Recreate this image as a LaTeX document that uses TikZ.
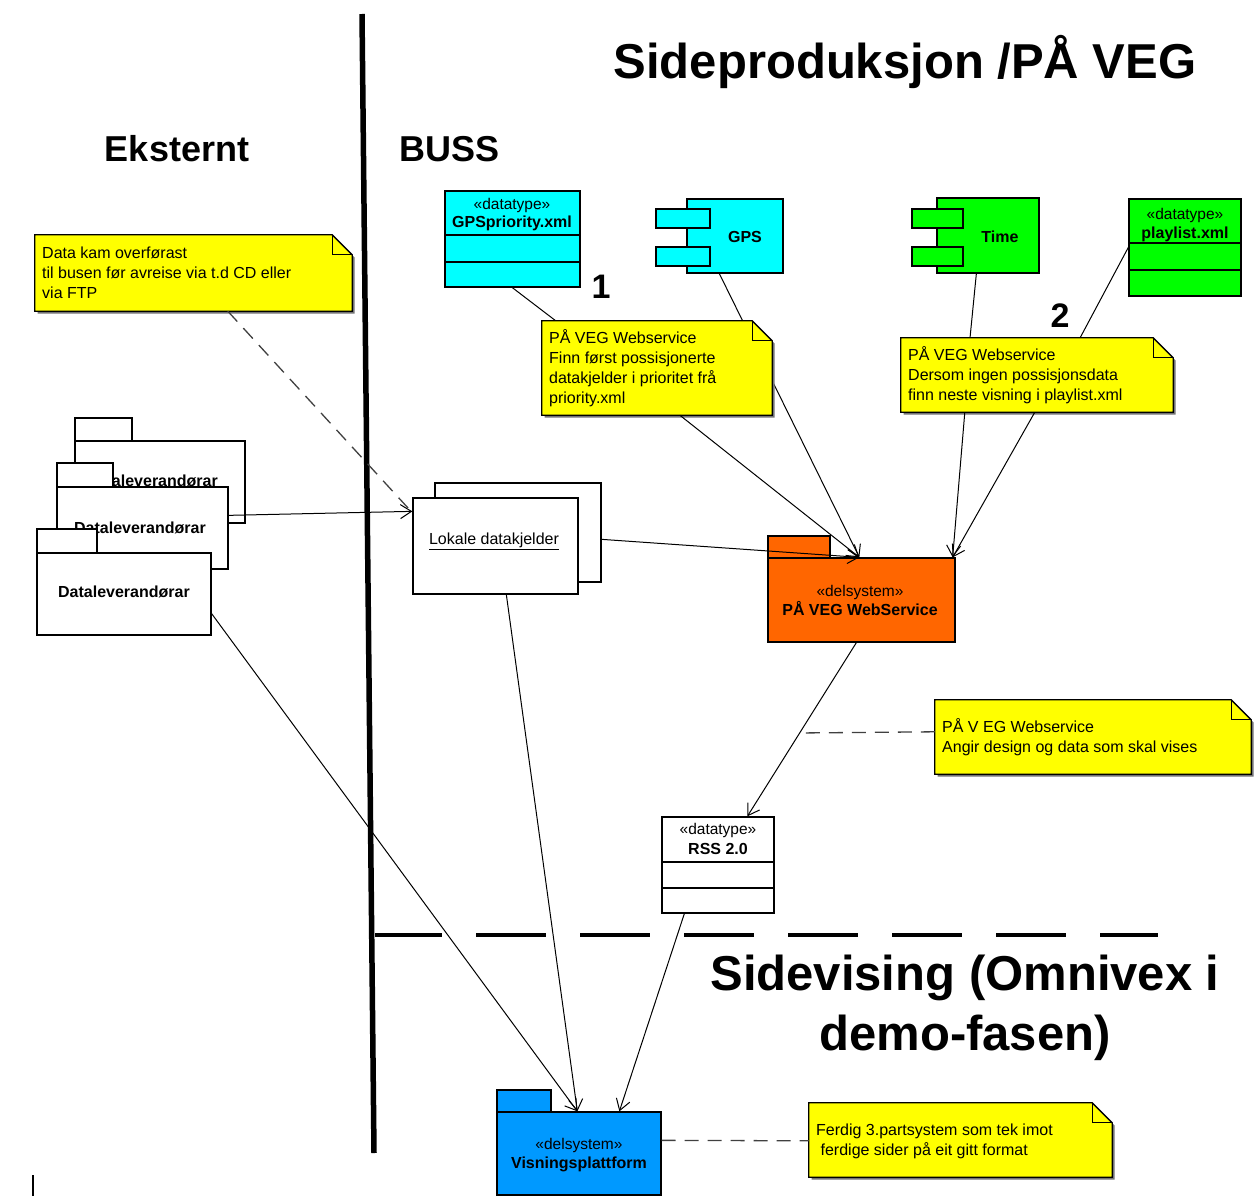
\documentclass[tikz,border=0pt]{standalone}
\usepackage{fontspec}
\setmainfont{Liberation Sans}
\usetikzlibrary{arrows.meta,fit,calc}
\definecolor{ccyan}{RGB}{0,255,255}
\definecolor{cgreen}{RGB}{0,255,0}
\definecolor{cyellow}{RGB}{255,255,0}
\definecolor{corange}{RGB}{255,102,0}
\definecolor{cblue}{RGB}{0,153,255}
\tikzset{
 box/.style={draw, line width=1.3pt, inner sep=0pt},
 conn/.style={line width=1pt},
 arr/.style={conn, -{Straight Barb[length=11pt,width=14pt]}},
 dline/.style={line width=1.3pt, dash pattern=on 14pt off 9pt, draw=black!75},
 notebg/.style={inner sep=0pt},
 noteline/.style={line width=1.3pt},
 notetext/.style={anchor=north west, inner sep=0pt, align=left, font=\fontsize{16}{20}\selectfont},
 stereo/.style={anchor=base, inner sep=0pt, font=\fontsize{15.5}{18}\selectfont},
 cname/.style={anchor=base, inner sep=0pt, font=\bfseries\fontsize{16}{19}\selectfont},
 bigtitle/.style={anchor=base, inner sep=0pt, font=\bfseries\fontsize{49}{60}\selectfont},
 headtxt/.style={anchor=base, inner sep=0pt, font=\bfseries\fontsize{36}{40}\selectfont},
 numtxt/.style={anchor=base, inner sep=0pt, font=\bfseries\fontsize{34}{40}\selectfont},
}
\newcommand\umlnote[7]{%
 \fill[black!55] (#2+2.5,#3+2.5) -- (#4-17.5,#3+2.5) -- (#4+2.5,#3+22.5) -- (#4+2.5,#5+2.5) -- (#2+2.5,#5+2.5) -- cycle;
 \node[notebg, fit={(#2,#3)(#4,#5)}] (#1) {};
 \filldraw[fill=cyellow, noteline] (#1.north west) -- ($(#1.north east)+(-20,0)$) -- ($(#1.north east)+(0,20)$) -- (#1.south east) -- (#1.south west) -- cycle;
 \draw[noteline] ($(#1.north east)+(-20,0)$) |- ($(#1.north east)+(0,20)$);
 \node[notetext] (#1t) at (#2+7,#6-8.5) {\rule{0pt}{14pt}#7};
}
\begin{document}
\begin{tikzpicture}[x=1pt,y=-1pt]
\useasboundingbox (0,0) rectangle (1254,1196);

% ---- titles
\node[bigtitle] (t1) at (905,79) {Sideproduksjon /PÅ VEG};
\node[headtxt] (t2) at (177,162) {Eksternt};
\node[headtxt] (t3) at (450,162) {BUSS};
\node[bigtitle] (t4) at (965,990) {Sidevising (Omnivex i};
\node[bigtitle] (t5) at (965,1050) {demo-fasen)};
\node[numtxt] (n1) at (601,298) {1};
\node[numtxt] (n2) at (1060,327) {2};

% ---- separators
\draw[line width=5.5pt] (362,14) -- (374,1153);
\draw[line width=4pt, dash pattern=on 70pt off 34pt, dash phase=3pt] (375,935) -- (1158,935);
\draw[line width=2pt] (33,1175) -- (33,1196);

% ---- GPSpriority.xml
\node[box, fill=ccyan, fit={(445,191)(580,287)}] (gpsp) {};
\draw[line width=1.3pt] (445,235) -- (580,235) (445,262) -- (580,262);
\node[stereo] (gpsps) at (512,209) {«datatype»};
\node[cname] (gpspn) at (512,228) {GPSpriority.xml};

% ---- GPS component
\node[box, fill=ccyan, fit={(687,199)(783,273)}] (gps) {};
\node[box, fill=ccyan, fit={(656,209)(710,228)}] (gpsa) {};
\node[box, fill=ccyan, fit={(656,247)(710,266)}] (gpsb) {};
\node[cname] (gpsn) at (745,242) {GPS};

% ---- Time component
\node[box, fill=cgreen, fit={(937,198)(1039,273)}] (time) {};
\node[box, fill=cgreen, fit={(912,209)(963,228)}] (timea) {};
\node[box, fill=cgreen, fit={(912,247)(963,266)}] (timeb) {};
\node[cname] (timen) at (1000,243) {Time};

% ---- playlist.xml
\node[box, fill=cgreen, fit={(1129,199)(1241,296)}] (pl) {};
\draw[line width=1.3pt] (1129,243) -- (1241,243) (1129,270) -- (1241,270);
\node[stereo] (pls) at (1185,219) {«datatype»};
\node[cname] (pln) at (1185,238) {playlist.xml};

% ---- Dataleverandorar stack
\node[box, fill=white, fit={(75,418)(132,441)}] (dl1tab) {};
\node[box, fill=white, fit={(75,441)(245,523)}] (dl1) {};
\node[cname] (dl1n) at (152,486) {Dataleverandørar};
\node[box, fill=white, fit={(57,463)(113,487)}] (dl2tab) {};
\node[box, fill=white, fit={(57,487)(228,569)}] (dl2) {};
\node[cname] (dl2n) at (140,533) {Dataleverandørar};
\node[box, fill=white, fit={(37,529)(97,553)}] (dl3tab) {};
\node[box, fill=white, fit={(37,553)(211,635)}] (dl3) {};
\node[cname] (dl3n) at (124,597) {Dataleverandørar};

% ---- Lokale datakjelder
\node[box, fill=white, fit={(435,483)(601,582)}] (lok2) {};
\node[box, fill=white, fit={(413,498)(578,594)}] (lok) {};
\node[anchor=base, inner sep=0pt, font=\fontsize{16}{19}\selectfont] (lokn) at (494,544) {\underline{Lokale datakjelder}};

% ---- PA VEG WebService
\node[box, fill=corange, fit={(768,536)(830,558)}] (wstab) {};
\node[box, fill=corange, fit={(768,558)(955,642)}] (ws) {};
\node[stereo] (wss) at (860,596) {«delsystem»};
\node[cname] (wsn) at (860,615) {PÅ VEG WebService};

% ---- RSS 2.0
\node[box, fill=white, fit={(662,817)(774,913)}] (rss) {};
\draw[line width=1.3pt] (662,862) -- (774,862) (662,888) -- (774,888);
\node[stereo] (rsss) at (718,834) {«datatype»};
\node[cname] (rssn) at (718,854) {RSS 2.0};

% ---- Visningsplattform
\node[box, fill=cblue, fit={(497,1090)(551,1112)}] (vistab) {};
\node[box, fill=cblue, fit={(497,1112)(661,1195)}] (vis) {};
\node[stereo] (viss) at (579,1149) {«delsystem»};
\node[cname] (visn) at (579,1168) {Visningsplattform};

% ---- connectors (drawn before notes)
\coordinate (wsin1) at ($(ws.north west)+(92,0)$);
\coordinate (wsin2) at ($(ws.north east)+(-3,0)$);
\coordinate (visin1) at ($(vis.north west)+(81,0)$);
\coordinate (visin2) at ($(vis.north west)+(123,0)$);
\coordinate (rssin) at ($(rss.north west)+(86,0)$);
\coordinate (lokin) at ($(lok.north west)+(0,14)$);

\draw[conn] ($(gpsp.south west)+(68,0)$) -- (556,321);
\draw[arr] ($(gps.south west)+(33,0)$) -- (wsin1);
\draw[conn] ($(time.south west)+(40,0)$) -- (970,338);
\draw[conn] ($(pl.north west)+(0,49)$) -- (1080,338);
\draw[arr] ($(dl2.north east)+(0,29)$) -- (lokin);
\draw[arr] ($(lok2.north east)+(0,57)$) -- (wsin1);
\draw[arr] ($(lok.south west)+(94,0)$) -- (visin1);
\draw[arr] ($(dl3.south east)+(0,-22)$) -- (visin1);
\draw[arr] ($(ws.south west)+(89,0)$) -- (rssin) coordinate[pos=0.52] (wsmid);
\draw[arr] ($(rss.south west)+(23,0)$) -- (visin2);

% ---- notes
\umlnote{note0}{35}{235}{352}{311}{253}{Data kam overførast\\til busen før avreise via t.d CD eller\\via FTP}
\umlnote{note1}{542}{321}{772}{415}{338}{PÅ VEG Webservice\\Finn først possisjonerte\\datakjelder i prioritet frå\\priority.xml}
\umlnote{note2}{901}{338}{1173}{412}{355}{PÅ VEG Webservice\\Dersom ingen possisjonsdata\\finn neste visning i playlist.xml}
\umlnote{note3}{935}{700}{1251}{774}{727}{PÅ V EG Webservice\\Angir design og data som skal vises}
\umlnote{note4}{809}{1103}{1112}{1177}{1130}{Ferdig 3.partsystem som tek imot\\\ ferdige sider på eit gitt format}

% ---- note-related connectors
\draw[arr] ($(note1.south west)+(138,0)$) -- (wsin1);
\draw[arr] ($(note2.south west)+(64,0)$) -- (wsin2);
\draw[arr] ($(note2.south west)+(134,0)$) -- (wsin2);
\draw[dline] ($(note0.south west)+(193,0)$) -- ($(lokin)+(-4,-3)$);
\draw[dline] ($(note3.north west)+(0,32)$) -- (wsmid);
\draw[dline] ($(vis.north east)+(0,29)$) -- ($(note4.north west)+(0,38)$);
\end{tikzpicture}
\end{document}
